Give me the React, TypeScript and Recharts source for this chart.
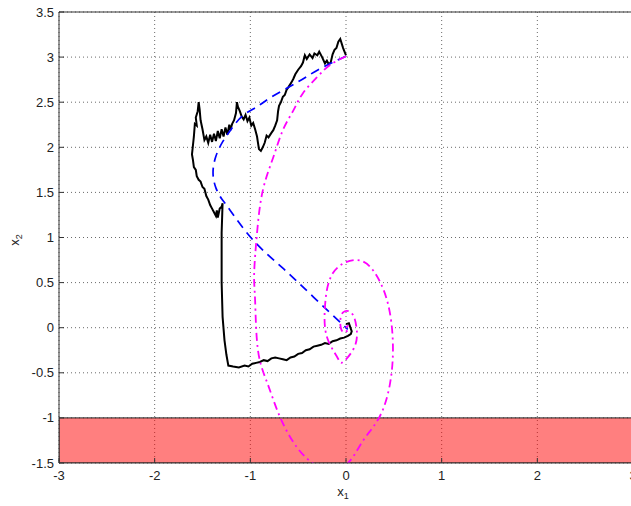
import React from 'react';
import { LineChart, Line, XAxis, YAxis, CartesianGrid, ReferenceArea, ReferenceLine, Label } from 'recharts';

const xTicks = [-3, -2, -1, 0, 1, 2, 3];
const yTicks = [-1.5, -1, -0.5, 0, 0.5, 1, 1.5, 2, 2.5, 3, 3.5];

// noisy trajectory (black)
const pathX1 = [
  0.0, -0.03, -0.06, -0.08, -0.1, -0.12, -0.14, -0.16, -0.18, -0.2, -0.22, -0.25, -0.28, -0.3, -0.33, -0.35,
  -0.38, -0.41, -0.43, -0.45, -0.47, -0.5, -0.53, -0.55, -0.57, -0.6, -0.62, -0.64, -0.66, -0.68, -0.7, -0.71,
  -0.72, -0.74, -0.76, -0.78, -0.81, -0.83, -0.85, -0.87, -0.89, -0.91, -0.92, -0.93, -0.95, -0.97, -0.99, -1.01,
  -1.03, -1.05, -1.07, -1.09, -1.11, -1.13, -1.14, -1.15, -1.17, -1.19, -1.21, -1.22, -1.24, -1.26, -1.28, -1.3,
  -1.32, -1.34, -1.36, -1.38, -1.4, -1.42, -1.44, -1.46, -1.48, -1.5, -1.52, -1.53, -1.54, -1.55, -1.57, -1.56,
  -1.58, -1.59, -1.6, -1.61, -1.6, -1.59, -1.57, -1.56, -1.54, -1.52, -1.5, -1.48, -1.46, -1.44, -1.42, -1.4,
  -1.38, -1.36, -1.35, -1.34, -1.32, -1.3, -1.29, -1.3, -1.3, -1.29, -1.27, -1.25, -1.23, -1.18, -1.12, -1.06,
  -1.02, -0.98, -0.94, -0.9, -0.86, -0.82, -0.78, -0.74, -0.7, -0.66, -0.62, -0.58, -0.54, -0.5, -0.46, -0.42,
  -0.38, -0.34, -0.3, -0.26, -0.22, -0.18, -0.14, -0.1, -0.06, -0.02, 0.02, 0.05, 0.06, 0.05, 0.04, 0.03, 0.0,
];
const pathX2 = [
  3.02, 3.1, 3.2, 3.17, 3.1, 3.08, 3.03, 2.94, 2.92, 2.96, 2.93, 3.0, 3.06, 3.02, 3.04, 2.99,
  3.03, 2.98, 3.02, 2.94, 2.9, 2.86, 2.81, 2.76, 2.72, 2.67, 2.64, 2.58, 2.56, 2.5, 2.46, 2.4,
  2.3, 2.24, 2.19, 2.16, 2.11, 2.13, 2.05, 2.0, 1.96, 1.98, 2.05, 2.12, 2.2, 2.27, 2.24, 2.33,
  2.29, 2.36, 2.31, 2.34, 2.4, 2.45, 2.5, 2.38, 2.3, 2.26, 2.19, 2.25, 2.14, 2.22, 2.12, 2.2,
  2.1, 2.18, 2.07, 2.15, 2.06, 2.14, 2.05, 2.12, 2.08, 2.2, 2.3, 2.42, 2.5, 2.4, 2.33, 2.24,
  2.26, 2.12, 2.02, 1.92, 1.86, 1.78, 1.75, 1.68, 1.64, 1.62, 1.56, 1.54, 1.46, 1.42, 1.36, 1.32,
  1.28, 1.24, 1.3, 1.22, 1.32, 1.34, 1.38, 1.05, 0.5, 0.12, -0.14, -0.3, -0.42, -0.43, -0.44, -0.42,
  -0.43, -0.4, -0.39, -0.38, -0.36, -0.37, -0.34, -0.33, -0.34, -0.35, -0.36, -0.33, -0.32, -0.29, -0.28, -0.25,
  -0.24, -0.21, -0.2, -0.19, -0.17, -0.18, -0.15, -0.14, -0.12, -0.11, -0.09, -0.07, -0.04, -0.01, 0.02, 0.05, 0.04,
];

// nominal trajectory (blue dashed)
const nominalX1 = [0, -0.29, -0.51, -0.79, -0.93, -1.08, -1.2, -1.29, -1.36, -1.39, -1.36, -1.3, -1.21, -0.97, -0.66, -0.34, -0.03, 0];
const nominalX2 = [3.01, 2.86, 2.72, 2.55, 2.45, 2.35, 2.2, 2.06, 1.9, 1.72, 1.55, 1.43, 1.3, 0.97, 0.66, 0.34, 0.03, 0];

// spiral (magenta dash-dot)
const spiralX1 = [
  0, -0.17, -0.3, -0.45, -0.55, -0.66, -0.76, -0.87, -0.93, -0.96, -0.95, -0.92, -0.82, -0.69, -0.51, -0.32,
  -0.16, 0.02, 0.18, 0.35, 0.46, 0.49, 0.43, 0.28, 0.09, -0.14, -0.22, -0.2, -0.09, -0.03, 0.09, 0.11, 0.06,
  -0.03, -0.06, -0.03, 0.02, 0.02, 0,
];
const spiralX2 = [
  3.01, 2.91, 2.78, 2.6, 2.41, 2.19, 1.89, 1.52, 1.05, 0.6, 0.3, -0.25, -0.62, -0.99, -1.33, -1.52,
  -1.56, -1.5, -1.25, -0.99, -0.62, -0.17, 0.3, 0.64, 0.75, 0.6, 0.23, -0.1, -0.33, -0.38, -0.21, 0.0, 0.16,
  0.17, 0.05, -0.05, -0.02, 0.02, 0,
];

const zip = (a: number[], b: number[]) => a.map((x, i) => ({ x, y: b[i] }));

const pathData = zip(pathX1, pathX2);
const nominalData = zip(nominalX1, nominalX2);
const spiralData = zip(spiralX1, spiralX2);

const FONT = '"Liberation Sans", Arial, sans-serif';

const XTick = (props: any) => {
  const { x, y, payload } = props;
  return (
    <g>
      <line x1={x} x2={x} y1={y} y2={y - 5} stroke="#333" />
      <text x={x} y={y + 17} textAnchor="middle" fontFamily={FONT} fontSize={13} fill="#222">
        {payload.value}
      </text>
    </g>
  );
};

const YTick = (props: any) => {
  const { x, y, payload } = props;
  return (
    <g>
      <line x1={x} x2={x + 5} y1={y} y2={y} stroke="#333" />
      <text x={x - 5} y={y + 4.5} textAnchor="end" fontFamily={FONT} fontSize={13} fill="#222">
        {payload.value}
      </text>
    </g>
  );
};

const XLabel = (props: any) => {
  const { viewBox } = props;
  const cx = viewBox.x + 284;
  return (
    <text x={cx} y={496} textAnchor="middle" fontFamily={FONT} fontSize={13} fill="#222">
      x<tspan fontSize={9} dy={3}>1</tspan>
    </text>
  );
};

const YLabel = () => (
  <text x={0} y={0} transform="translate(19,240) rotate(-90)" textAnchor="middle" fontFamily={FONT} fontSize={13} fill="#222">
    x<tspan fontSize={9} dy={3}>2</tspan>
  </text>
);

export default function App() {
  return (
    <div style={{ position: 'absolute', left: 0, top: 0, width: 631, height: 506, overflow: 'hidden', background: '#fff' }}>
      <LineChart width={660} height={506} margin={{ top: 12, right: 27, left: 0, bottom: 0 }}>
        <CartesianGrid stroke="#6a6a6a" strokeDasharray="1 3" />
        <ReferenceArea x1={-3} x2={3} y1={-1.5} y2={-1} fill="#ff0000" fillOpacity={0.5} stroke="#222" strokeWidth={1} ifOverflow="hidden" />
        <XAxis
          type="number"
          dataKey="x"
          domain={[-3, 3]}
          ticks={xTicks}
          allowDataOverflow
          height={43}
          tickSize={0}
          tickMargin={0}
          tick={<XTick />}
          stroke="#333"
        >
          <Label content={<XLabel />} />
        </XAxis>
        <YAxis
          type="number"
          dataKey="y"
          domain={[-1.5, 3.5]}
          ticks={yTicks}
          allowDataOverflow
          width={59}
          tickSize={0}
          tickMargin={0}
          tick={<YTick />}
          stroke="#333"
        >
          <Label content={<YLabel />} />
        </YAxis>
        <ReferenceLine y={3.5} stroke="#333" />
        <Line data={pathData} dataKey="y" type="linear" stroke="#000" strokeWidth={2} dot={false} isAnimationActive={false} />
        <Line data={nominalData} dataKey="y" type="natural" stroke="#0000ff" strokeWidth={1.7} strokeDasharray="9 6" dot={false} isAnimationActive={false} />
        <Line data={spiralData} dataKey="y" type="natural" stroke="#ff00ff" strokeWidth={1.8} strokeDasharray="8 4 2 4" dot={false} isAnimationActive={false} />
      </LineChart>
    </div>
  );
}
